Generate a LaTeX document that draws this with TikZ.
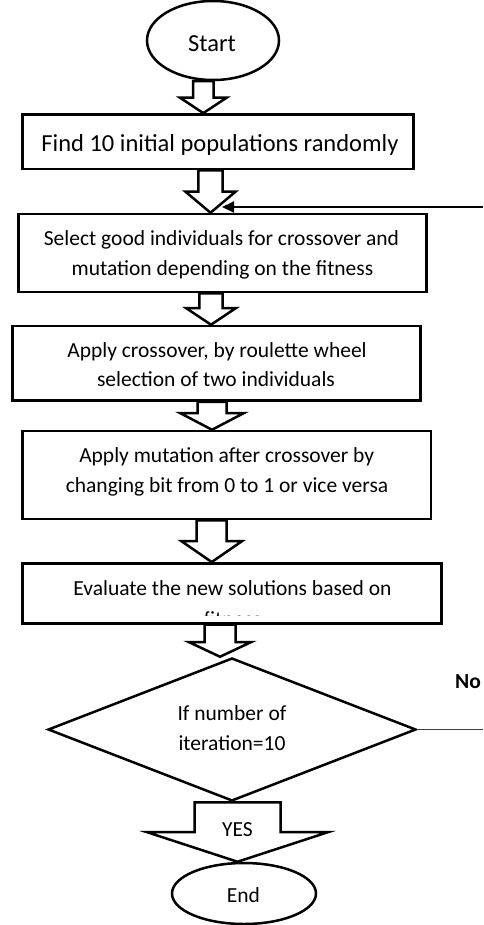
\documentclass[tikz,border=0pt]{standalone}
\usepackage{fontspec}
\setmainfont{Carlito}
\usetikzlibrary{shapes.geometric,arrows.meta}
\tikzset{
  x=1pt, y=-1pt,
  boxst/.style={draw, rectangle, line width=2.5pt, fill=white, inner sep=0pt},
  ovalst/.style={draw, ellipse, line width=2.5pt, fill=white, inner sep=0pt},
  decst/.style={draw, diamond, line width=2.5pt, fill=white, inner sep=0pt},
  barrow/.style={draw, line width=2.5pt, fill=white, line join=miter},
  txt/.style={anchor=base, inner sep=0pt, font=\fontsize{21.5}{30}\selectfont},
  bigtxt/.style={anchor=base, inner sep=0pt, font=\fontsize{24.5}{30}\selectfont},
  feed/.style={line width=2pt, -{Triangle[length=12pt,width=11pt]}},
  noline/.style={line width=1.6pt, black!75},
}
% block arrow: #1 top anchor, #2 tip anchor, #3 centre x, #4 shaft half width, #5 head half width, #6 flare y
\newcommand\blockarr[6]{%
  \draw[barrow] (#3-#4,0 |- #1) -- (#3+#4,0 |- #1) -- (#3+#4,#6) -- (#3+#5,#6)
    -- (#3,0 |- #2) -- (#3-#5,#6) -- (#3-#4,#6) -- cycle;}
\begin{document}
\begin{tikzpicture}
\useasboundingbox (0,0) rectangle (483,925);

% shapes
\node[ovalst, minimum width=132pt, minimum height=79pt] (st) at (213,40.5) {};
\node[boxst, minimum width=390.6pt, minimum height=54.7pt] (b1) at (218,141.7) {};
\node[boxst, minimum width=408.4pt, minimum height=78pt] (b2) at (222.5,253) {};
\node[boxst, minimum width=408pt, minimum height=74.7pt] (b3) at (216.7,363.3) {};
\node[boxst, minimum width=408.3pt, minimum height=88pt] (b4) at (226.8,475) {};
\node[boxst, minimum width=419pt, minimum height=60pt] (b5) at (232.2,593.3) {};
\node[decst, minimum width=368pt, minimum height=143pt] (dia) at (232,729.5) {};
\node[ovalst, minimum width=144pt, minimum height=61pt] (en) at (244,893.5) {};

% block arrows
\blockarr{st.south}{b1.north}{203.3}{10.3}{23.3}{97.7}
\blockarr{b1.south}{b2.north}{210.5}{12.2}{25}{191.7}
\blockarr{b2.south}{b3.north}{211}{11.7}{25}{308}
\blockarr{b3.south}{b4.north}{212}{14.5}{32}{413}
\blockarr{b4.south}{b5.north}{211.7}{15}{30.5}{541}
\blockarr{b5.south}{dia.north}{220}{15.5}{31.3}{642}
\blockarr{dia.south}{en.north}{237.5}{43}{91}{832}

% texts
\node[bigtxt] (tst) at (212,52) {Start};
\node[bigtxt] (t1) at (220,151.7) {Find 10 initial populations randomly};
\node[txt] (t2a) at (221.5,245) {Select good individuals for crossover and};
\node[txt] (t2b) at (222.5,275) {mutation depending on the fitness};
\node[txt] (t3a) at (217,357) {Apply crossover, by roulette wheel};
\node[txt] (t3b) at (216,386) {selection of two individuals};
\node[txt] (t4a) at (226.7,462) {Apply mutation after crossover by};
\node[txt] (t4b) at (227,492) {changing bit from 0 to 1 or vice versa};
\node[txt] (t5a) at (232.5,595) {Evaluate the new solutions based on};
\begin{scope}
  \clip (b5.north west) rectangle (b5.east |- 0,615.5);
  \node[txt] (t5b) at (232.5,626) {fitness};
\end{scope}
\node[txt] (td1) at (232,720) {If number of};
\node[txt] (td2) at (232,750) {iteration=10};
\node[txt] (yes) at (237.5,836) {YES};
\node[txt] (ten) at (243.5,902) {End};
\node[txt, anchor=base west, font=\bfseries\fontsize{21.5}{30}\selectfont] (no) at (455,688) {No};

% loop-back connector
\coordinate (nor) at (483,729.5);
\coordinate (fbr) at (483,207);
\coordinate (fbt) at (222,207);
\draw[noline] (dia.east) -- (nor);
\draw[feed] (fbr) -- (fbt);
\end{tikzpicture}
\end{document}
